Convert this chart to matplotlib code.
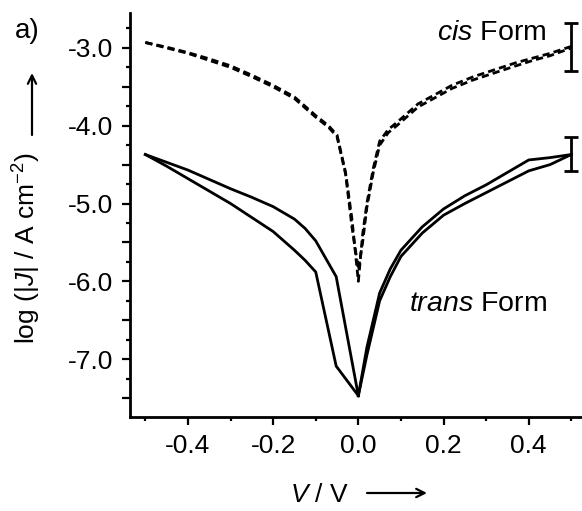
import numpy as np
import matplotlib
matplotlib.use('Agg')
import matplotlib.pyplot as plt
from matplotlib.ticker import MultipleLocator, FuncFormatter

plt.rcParams['font.family'] = ['Liberation Sans', 'DejaVu Sans']
plt.rcParams['mathtext.fontset'] = 'custom'
plt.rcParams['mathtext.rm'] = 'Liberation Sans'
plt.rcParams['mathtext.it'] = 'Liberation Sans:italic'
plt.rcParams['axes.unicode_minus'] = False

# cis form, two sweeps (dashed)
cis_v1 = [-0.5, -0.45, -0.4, -0.35, -0.3, -0.25, -0.2, -0.15, -0.1, -0.07, -0.05, -0.03, -0.015, 0.0,
          0.01, 0.02, 0.035, 0.05, 0.07, 0.09, 0.14, 0.18, 0.22, 0.27, 0.32, 0.37, 0.41, 0.45, 0.5]
cis_j1 = [-2.93, -2.99, -3.06, -3.14, -3.23, -3.35, -3.48, -3.63, -3.87, -4.0, -4.12, -4.6, -5.2, -6.0,
          -5.4, -5.0, -4.55, -4.2, -4.05, -3.96, -3.72, -3.6, -3.48, -3.37, -3.28, -3.19, -3.13, -3.07, -2.98]
cis_v2 = [-0.5, -0.45, -0.4, -0.35, -0.3, -0.25, -0.2, -0.15, -0.1, -0.07, -0.05, -0.03, -0.015, 0.0,
          0.01, 0.02, 0.035, 0.05, 0.07, 0.09, 0.14, 0.18, 0.22, 0.27, 0.32, 0.37, 0.41, 0.45, 0.5]
cis_j2 = [-2.93, -3.0, -3.07, -3.16, -3.25, -3.37, -3.50, -3.65, -3.89, -4.02, -4.14, -4.62, -5.3, -5.85,
          -5.5, -5.05, -4.6, -4.25, -4.09, -4.0, -3.76, -3.64, -3.52, -3.41, -3.32, -3.23, -3.16, -3.1, -3.0]

# trans form, loop (solid)
trans_v_left = [-0.5, -0.45, -0.4, -0.35, -0.3, -0.25, -0.2, -0.15, -0.125, -0.1, -0.052, 0.0]
trans_j_left_a = [-4.37, -4.47, -4.57, -4.69, -4.81, -4.92, -5.04, -5.2, -5.32, -5.48, -5.94, -7.47]
trans_j_left_b = [-4.37, -4.52, -4.68, -4.84, -5.0, -5.18, -5.36, -5.6, -5.73, -5.88, -7.09, -7.47]
trans_v_right = [0.0, 0.02, 0.05, 0.075, 0.1, 0.15, 0.2, 0.25, 0.3, 0.35, 0.4, 0.45, 0.5]
trans_j_right_a = [-7.47, -6.85, -6.15, -5.84, -5.6, -5.3, -5.07, -4.9, -4.76, -4.6, -4.44, -4.41, -4.37]
trans_j_right_b = [-7.47, -6.95, -6.25, -5.94, -5.68, -5.38, -5.15, -5.0, -4.86, -4.72, -4.58, -4.5, -4.37]

# error bars at 0.5 V
err_v = [0.5, 0.5]
err_j = [-2.99, -4.36]
err_size = [0.31, 0.22]

W, H = 582, 511
fig = plt.figure(figsize=(W / 100, H / 100), dpi=100)
ax = fig.add_axes([130 / W, 1 - 417 / H, 1 - 130 / W, (417 - 13) / H])

lw = 2.0
dash = (0, (2.6, 1.5))
ax.plot(cis_v1, cis_j1, color='black', lw=lw, linestyle=dash)
ax.plot(cis_v2, cis_j2, color='black', lw=lw, linestyle=dash)
ax.plot(trans_v_left, trans_j_left_a, color='black', lw=lw)
ax.plot(trans_v_left, trans_j_left_b, color='black', lw=lw)
ax.plot(trans_v_right, trans_j_right_a, color='black', lw=lw)
ax.plot(trans_v_right, trans_j_right_b, color='black', lw=lw)
ax.errorbar(err_v, err_j, yerr=err_size, fmt='none', ecolor='black',
            elinewidth=lw, capsize=5, capthick=lw)

ax.set_xlim(-0.536, 0.525)
ax.set_ylim(-7.744, -2.551)

ax.spines['top'].set_visible(False)
ax.spines['right'].set_visible(False)
for s in ['left', 'bottom']:
    ax.spines[s].set_linewidth(2.0)

ax.xaxis.set_major_locator(MultipleLocator(0.2))
ax.xaxis.set_minor_locator(MultipleLocator(0.1))
ax.yaxis.set_major_locator(MultipleLocator(0.5))
ax.yaxis.set_minor_locator(MultipleLocator(0.25))
ax.xaxis.set_major_formatter(FuncFormatter(lambda v, p: f"{v:.1f}" if abs(v) > 1e-9 else "0.0"))
ax.yaxis.set_major_formatter(FuncFormatter(lambda v, p: f"{v:.1f}" if abs(v - round(v)) < 1e-6 else ""))
ax.tick_params(which='major', direction='out', length=6, width=1.6, labelsize=19, pad=6)
ax.tick_params(which='minor', direction='out', length=3, width=1.6)

# axis labels with long arrows drawn separately
fig.text(320 / W, 1 - 495 / H, r"$V$ / V", fontsize=19, ha='center', va='center')
fig.text(27 / W, 1 - 248 / H, r"log (|$J$| / A cm$^{-2}$)", fontsize=19,
         rotation=90, ha='center', va='center')
arrow = dict(arrowstyle='->,head_length=0.6,head_width=0.3', lw=1.6, color='black',
             shrinkA=0, shrinkB=0)
fig.add_artist(plt.Annotation('', xy=(427 / W, 1 - 493 / H), xytext=(367 / W, 1 - 493 / H),
                              xycoords='figure fraction', arrowprops=arrow))
fig.add_artist(plt.Annotation('', xy=(32 / W, 1 - 73 / H), xytext=(32 / W, 1 - 135 / H),
                              xycoords='figure fraction', arrowprops=arrow))

ax.text(0.442, -2.81, r"$\mathit{cis}$ Form", fontsize=20.5, ha='right', va='center')
ax.text(0.442, -6.29, r"$\mathit{trans}$ Form", fontsize=20.5, ha='right', va='center')
fig.text(0.025, 0.94, "a)", fontsize=20, ha='left', va='center')

fig.savefig('out.png', dpi=100)
